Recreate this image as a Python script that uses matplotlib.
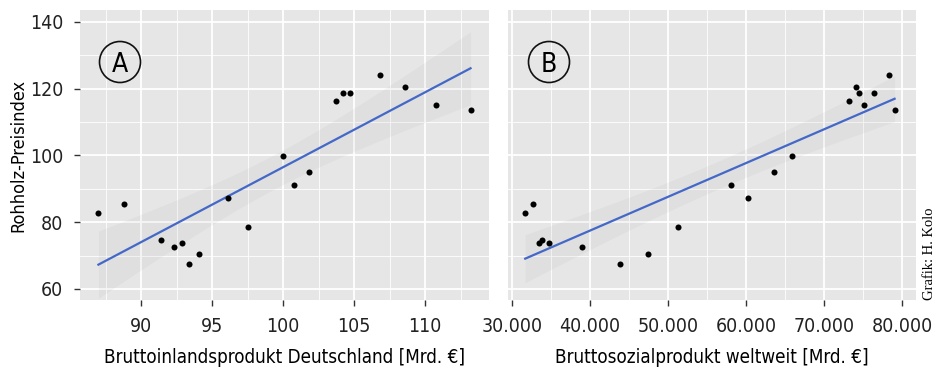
import numpy as np
import matplotlib.pyplot as plt
from matplotlib.patches import Circle
from matplotlib.ticker import FuncFormatter, MultipleLocator

# Panel A: BIP Deutschland vs Rohholz-Preisindex
bip_de = [87.0, 88.8, 91.4, 92.3, 92.9, 93.4, 94.1, 96.1, 97.5, 100.0,
          100.8, 101.8, 103.7, 104.2, 104.7, 106.8, 108.6, 110.8, 113.2]
index_a = [82.8, 85.4, 74.6, 72.7, 73.7, 67.4, 70.5, 87.3, 78.7, 99.9,
           91.1, 95.2, 116.2, 118.7, 118.7, 124.1, 120.6, 115.2, 113.7]

# Panel B: Bruttosozialprodukt weltweit vs Rohholz-Preisindex
bsp_world = [31700, 32700, 33500, 33800, 34800, 39000, 43800, 47400, 51300, 58100,
             60200, 63600, 65900, 73100, 74100, 74400, 75100, 76300, 78300, 79000]
index_b = [82.8, 85.4, 73.7, 74.6, 73.7, 72.7, 67.4, 70.5, 78.7, 91.1,
           87.3, 95.2, 99.9, 116.2, 120.6, 118.7, 115.2, 118.7, 124.1, 113.7]

xlabels = ['Bruttoinlandsprodukt Deutschland [Mrd. €]', 'Bruttosozialprodukt weltweit [Mrd. €]']
panel_tags = ['A', 'B']
ylabel = 'Rohholz-Preisindex'

plt.rcParams['font.family'] = ['DejaVu Sans']
plt.rcParams['font.stretch'] = 'condensed'

bg = '#e6e6e6'
line_col = '#4468c8'

fig = plt.figure(figsize=(9.44, 3.69), dpi=100)
ax1 = fig.add_axes([0.0847, 0.187, 0.4333, 0.786])
ax2 = fig.add_axes([0.538, 0.187, 0.432, 0.786], sharey=ax1)


def smooth(ax, x, y):
    # linear fit with 95% confidence band, like geom_smooth(method='lm')
    x = np.asarray(x, float)
    y = np.asarray(y, float)
    n = len(x)
    b, a = np.polyfit(x, y, 1)
    resid = y - (a + b*x)
    s = np.sqrt(np.sum(resid**2)/(n-2))
    sxx = np.sum((x - x.mean())**2)
    xs = np.linspace(x.min(), x.max(), 100)
    ys = a + b*xs
    se = s*np.sqrt(1.0/n + (xs - x.mean())**2/sxx)
    t = 2.11
    ax.fill_between(xs, ys - t*se, ys + t*se, color='#9a9a9a', alpha=0.09, lw=0, zorder=2)
    ax.plot(xs, ys, color=line_col, lw=1.6, zorder=3)


for ax, x, y, xl in [(ax1, bip_de, index_a, xlabels[0]),
                     (ax2, bsp_world, index_b, xlabels[1])]:
    ax.set_facecolor(bg)
    for sp in ax.spines.values():
        sp.set_visible(False)
    ax.grid(which='major', color='white', lw=1.3, zorder=0)
    ax.grid(which='minor', color='white', lw=0.6, zorder=0)
    ax.set_axisbelow(True)
    smooth(ax, x, y)
    ax.scatter(x, y, s=19, color='black', zorder=4, lw=0)
    ax.set_xlabel(xl, fontsize=13.5, labelpad=9)
    ax.tick_params(axis='both', which='major', labelsize=14, length=4, width=1,
                   color='#333333', labelcolor='#222222', pad=8)
    ax.tick_params(which='minor', length=0)

# circled panel tags, placed in figure pixels so the circles stay round
for cx, tag in zip([120, 549], panel_tags):
    fig.patches.append(Circle((cx, 369 - 62), 20.5, transform=None, fill=False,
                              ec='#111111', lw=1.2))
    fig.text(cx / 944, 1 - 62 / 369, tag, fontsize=19, ha='center',
             va='center_baseline')

ax1.set_ylim(56.7, 143.6)
ax1.yaxis.set_major_locator(MultipleLocator(20))
ax1.yaxis.set_minor_locator(MultipleLocator(10))
ax1.set_xlim(85.7, 114.5)
ax1.xaxis.set_major_locator(MultipleLocator(5))
ax1.xaxis.set_minor_locator(MultipleLocator(2.5))
ax1.set_ylabel(ylabel, fontsize=13, labelpad=1.5)

ax2.set_xlim(29480, 81700)
ax2.xaxis.set_major_locator(MultipleLocator(10000))
ax2.xaxis.set_minor_locator(MultipleLocator(5000))
ax2.xaxis.set_major_formatter(FuncFormatter(lambda v, p: f'{int(v):,}'.replace(',', '.')))
ax2.tick_params(axis='y', left=False, labelleft=False)

fig.text(0.985, 0.187, 'Grafik: H. Kolo', rotation=90, fontsize=10.5,
         family=['Liberation Serif', 'DejaVu Serif'], stretch='normal',
         ha='center', va='bottom')

fig.savefig('out.png', dpi=100, facecolor='white')
plt.close()
